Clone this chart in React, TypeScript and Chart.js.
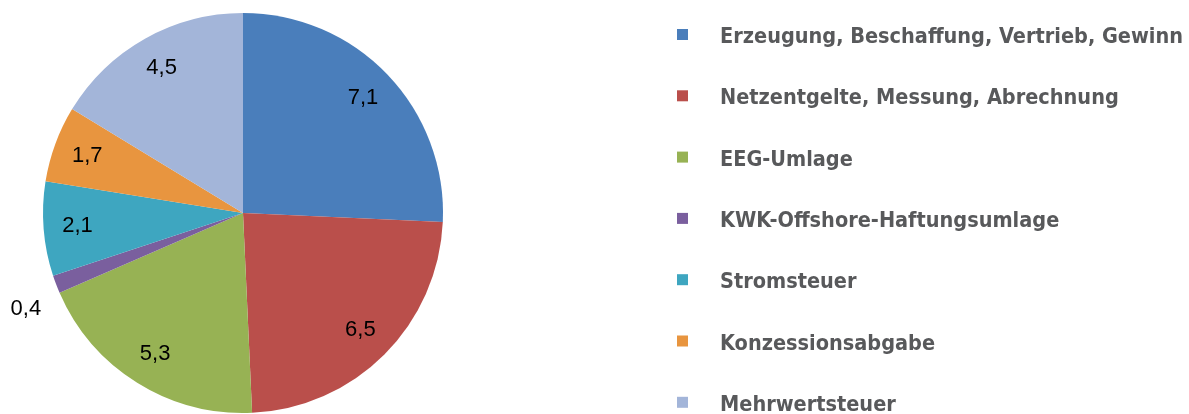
import React, { useEffect, useRef } from "react";
import { Chart, registerables } from "chart.js";

Chart.register(...registerables);

const categories = [
  "Erzeugung, Beschaffung, Vertrieb, Gewinn",
  "Netzentgelte, Messung, Abrechnung",
  "EEG-Umlage",
  "KWK-Offshore-Haftungsumlage",
  "Stromsteuer",
  "Konzessionsabgabe",
  "Mehrwertsteuer",
];
const values = [7.1, 6.5, 5.3, 0.4, 2.1, 1.7, 4.5];
const valueLabels = ["7,1", "6,5", "5,3", "0,4", "2,1", "1,7", "4,5"];
const colors = ["#4A7EBB", "#BA4F4B", "#97B254", "#7A5F9E", "#3EA6C0", "#E8953F", "#A3B5D9"];

const labelPlugin = {
  id: "sliceLabels",
  afterDatasetsDraw(chart: any) {
    const ctx = chart.ctx;
    const meta = chart.getDatasetMeta(0);
    const total = values.reduce((a, b) => a + b, 0);
    ctx.save();
    ctx.font = "22px 'Liberation Sans', Arial, sans-serif";
    ctx.fillStyle = "#000000";
    ctx.textBaseline = "middle";
    meta.data.forEach((arc: any, i: number) => {
      const { x, y, startAngle, endAngle, outerRadius } = arc.getProps(
        ["x", "y", "startAngle", "endAngle", "outerRadius"],
        true
      );
      const mid = (startAngle + endAngle) / 2;
      const share = values[i] / total;
      if (share < 0.03) {
        const r = outerRadius * 1.08;
        ctx.textAlign = "right";
        ctx.fillText(valueLabels[i], x + Math.cos(mid) * r, y + Math.sin(mid) * r + 19);
      } else {
        const r = outerRadius * 0.83;
        ctx.textAlign = "center";
        ctx.fillText(valueLabels[i], x + Math.cos(mid) * r, y + Math.sin(mid) * r);
      }
    });
    ctx.restore();
  },
};

const legendPlugin = {
  id: "sideLegend",
  afterDraw(chart: any) {
    const ctx = chart.ctx;
    ctx.save();
    ctx.font = "bold 21.5px 'DejaVu Sans Condensed', 'DejaVu Sans', sans-serif";
    ctx.textBaseline = "alphabetic";
    ctx.textAlign = "left";
    categories.forEach((c, i) => {
      const base = 43 + i * 61.3;
      ctx.fillStyle = colors[i];
      ctx.fillRect(677, base - 14, 11, 11);
      ctx.fillStyle = "#58595B";
      ctx.fillText(c, 720, base);
    });
    ctx.restore();
  },
};

export default function App() {
  const ref = useRef<HTMLCanvasElement | null>(null);
  useEffect(() => {
    document.body.style.margin = "0";
    const chart = new Chart(ref.current!, {
      type: "pie",
      data: {
        labels: categories,
        datasets: [
          {
            data: values,
            backgroundColor: colors,
            borderWidth: 0,
          },
        ],
      },
      options: {
        animation: false,
        responsive: false,
        events: [],
        layout: { padding: { left: 43, top: 13, right: 746, bottom: 1 } },
        plugins: {
          legend: { display: false },
          tooltip: { enabled: false },
        },
      },
      plugins: [labelPlugin, legendPlugin],
    });
    return () => chart.destroy();
  }, []);
  return (
    <div style={{ width: 1189, height: 414 }}>
      <canvas ref={ref} width={1189} height={414} style={{ display: "block" }} />
    </div>
  );
}
